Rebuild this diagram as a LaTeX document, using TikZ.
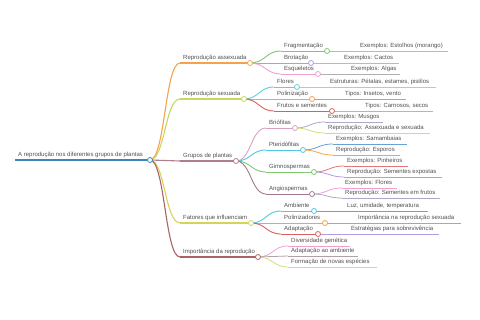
\documentclass[tikz,border=0pt]{standalone}
\usepackage{fontspec}
\setmainfont{Liberation Sans}
\usetikzlibrary{calc}
\definecolor{tc}{HTML}{505050}
\definecolor{cRoot}{HTML}{3A86C0}
\definecolor{cOrange}{HTML}{F4A24B}
\definecolor{cYG}{HTML}{C9D65F}
\definecolor{cMauve}{HTML}{B07D8C}
\definecolor{cYellow}{HTML}{D4D45A}
\definecolor{cBrown}{HTML}{A86464}
\definecolor{cGreen}{HTML}{80C870}
\definecolor{cPurple}{HTML}{B49AE0}
\definecolor{cPink}{HTML}{F0A0D0}
\definecolor{cRose}{HTML}{E4A4BC}
\definecolor{cGrey}{HTML}{B0B0B0}
\definecolor{cTeal}{HTML}{60CFD8}
\definecolor{cRed}{HTML}{D96060}
\definecolor{cLBlue}{HTML}{A8CAE8}
\definecolor{cBlue}{HTML}{6B9FD8}
\definecolor{cLav}{HTML}{C0A8E0}
\definecolor{cPM}{HTML}{D8A0C0}
\definecolor{cCyan}{HTML}{50C8E0}
\definecolor{cDM}{HTML}{A07890}
\definecolor{cGP}{HTML}{B0A8C8}
\definecolor{cLYG}{HTML}{D0E070}
\definecolor{cPinkR}{HTML}{E07878}
\definecolor{cGM}{HTML}{B0A0A8}
\newcommand\mnd[7]{%
  \coordinate (#1-s) at (#2,#4);
  \coordinate (#1-e) at (#3,#4);
  \draw[#5, line width=#6] (#1-s) -- (#1-e);
  \node[txt] (#1) at ($(#1-s)+(3,-3)$) {#7};}
\newcommand\mlk[4]{\draw[#3, line width=#4] (#1-e) to[lnk] (#2-s);}
\newcommand\mdot[2]{\draw[#2, fill=white, line width=0.8] (#1-e) circle[radius=2.5];}
\begin{document}
\begin{tikzpicture}[x=1pt,y=-1pt,
  txt/.style={font=\fontsize{6}{7}\selectfont, text=tc, inner sep=0, anchor=base west},
  lnk/.style={to path={let \p1=(\tikztostart), \p2=(\tikztotarget) in
     .. controls ({(\x1+\x2)/2},\y1) and ({(\x1+\x2)/2},\y2) .. (\tikztotarget)}}]
\useasboundingbox (0,0) rectangle (480,320);
% root
\mnd{root}{15}{150}{160}{cRoot}{1.4}{A reprodução nos diferentes grupos de plantas}
% level 1
\mnd{ra}{180}{250}{63}{cOrange}{1.1}{Reprodução assexuada}
\mnd{rs}{180}{244}{99}{cYG}{1.1}{Reprodução sexuada}
\mnd{gp}{180}{236}{161}{cMauve}{1.1}{Grupos de plantas}
\mnd{fi}{180}{251}{223}{cYellow}{1.1}{Fatores que influenciam}
\mnd{ir}{180}{258}{257}{cBrown}{1.1}{Importância da reprodução}
\mlk{root}{ra}{cOrange}{1.1}
\mlk{root}{rs}{cYG}{1.1}
\mlk{root}{gp}{cMauve}{1.1}
\mlk{root}{fi}{cYellow}{1.1}
\mlk{root}{ir}{cBrown}{1.1}
% level 2: assexuada
\mnd{frag}{281}{327}{51}{cGreen}{0.9}{Fragmentação}
\mnd{brot}{281}{311}{63}{cPurple}{0.9}{Brotação}
\mnd{esq}{281}{318}{74}{cPink}{0.9}{Esqueletos}
\mlk{ra}{frag}{cGreen}{0.9}
\mlk{ra}{brot}{cPurple}{0.9}
\mlk{ra}{esq}{cPink}{0.9}
\mnd{l1}{357}{448}{51}{cRose}{0.8}{Exemplos: Estolhos (morango)}
\mnd{l2}{341}{399}{63}{cRose}{0.8}{Exemplos: Cactos}
\mnd{l3}{348}{400}{74}{cGrey}{0.8}{Exemplos: Algas}
\mlk{frag}{l1}{cRose}{0.8}
\mlk{brot}{l2}{cRose}{0.8}
\mlk{esq}{l3}{cGrey}{0.8}
% level 2: sexuada
\mnd{flo}{274}{297}{87}{cTeal}{0.9}{Flores}
\mnd{pol}{274}{312}{99}{cOrange}{0.9}{Polinização}
\mnd{fru}{274}{332}{111}{cRed}{0.9}{Frutos e sementes}
\mlk{rs}{flo}{cTeal}{0.9}
\mlk{rs}{pol}{cOrange}{0.9}
\mlk{rs}{fru}{cRed}{0.9}
\mnd{l4}{327}{436}{87}{cLBlue}{0.8}{Estruturas: Pétalas, estames, pistilos}
\mnd{l5}{342}{406}{99}{cGreen}{0.8}{Tipos: Insetos, vento}
\mnd{l6}{362}{433}{111}{cLav}{0.8}{Tipos: Carnosos, secos}
\mlk{flo}{l4}{cLBlue}{0.8}
\mlk{pol}{l5}{cGreen}{0.8}
\mlk{fru}{l6}{cLav}{0.8}
% level 2: grupos
\mnd{bri}{266}{295}{128}{cPM}{0.9}{Briófitas}
\mnd{pte}{266}{303}{150}{cCyan}{0.9}{Pteridófitas}
\mnd{gim}{266}{314}{172}{cGreen}{0.9}{Gimnospermas}
\mnd{ang}{266}{312}{194}{cDM}{0.9}{Angiospermas}
\mlk{gp}{bri}{cPM}{0.9}
\mlk{gp}{pte}{cCyan}{0.9}
\mlk{gp}{gim}{cGreen}{0.9}
\mlk{gp}{ang}{cDM}{0.9}
\mnd{l7}{325}{383}{122}{cGP}{0.8}{Exemplos: Musgos}
\mnd{l8}{325}{430}{133}{cLYG}{0.8}{Reprodução: Assexuada e sexuada}
\mnd{l9}{333}{407}{144}{cBlue}{0.8}{Exemplos: Samambaias}
\mnd{l10}{333}{400}{155}{cOrange}{0.8}{Reprodução: Esporos}
\mnd{l11}{344}{408}{166}{cPinkR}{0.8}{Exemplos: Pinheiros}
\mnd{l12}{344}{442}{177}{cPurple}{0.8}{Reprodução: Sementes expostas}
\mnd{l13}{342}{397}{188}{cPink}{0.8}{Exemplos: Flores}
\mnd{l14}{342}{440}{198}{cGP}{0.8}{Reprodução: Sementes em frutos}
\mlk{bri}{l7}{cGP}{0.8}
\mlk{bri}{l8}{cLYG}{0.8}
\mlk{pte}{l9}{cBlue}{0.8}
\mlk{pte}{l10}{cOrange}{0.8}
\mlk{gim}{l11}{cPinkR}{0.8}
\mlk{gim}{l12}{cPurple}{0.8}
\mlk{ang}{l13}{cPink}{0.8}
\mlk{ang}{l14}{cGP}{0.8}
% level 2: fatores
\mnd{amb}{281}{314}{211}{cCyan}{0.9}{Ambiente}
\mnd{pln}{281}{325}{223}{cOrange}{0.9}{Polinizadores}
\mnd{ada}{281}{318}{234}{cRed}{0.9}{Adaptação}
\mlk{fi}{amb}{cCyan}{0.9}
\mlk{fi}{pln}{cOrange}{0.9}
\mlk{fi}{ada}{cRed}{0.9}
\mnd{l15}{344}{428}{211}{cBlue}{0.8}{Luz, umidade, temperatura}
\mnd{l16}{355}{461}{223}{cGreen}{0.8}{Importância na reprodução sexuada}
\mnd{l17}{348}{439}{234}{cPurple}{0.8}{Estratégias para sobrevivência}
\mlk{amb}{l15}{cBlue}{0.8}
\mlk{pln}{l16}{cGreen}{0.8}
\mlk{ada}{l17}{cPurple}{0.8}
% level 2: importancia
\mnd{div}{288}{350}{246}{cPink}{0.8}{Diversidade genética}
\mnd{aam}{288}{358}{256}{cGM}{0.8}{Adaptação ao ambiente}
\mnd{nov}{288}{377}{267}{cLYG}{0.8}{Formação de novas espécies}
\mlk{ir}{div}{cPink}{0.8}
\mlk{ir}{aam}{cGM}{0.8}
\mlk{ir}{nov}{cLYG}{0.8}
% circles
\mdot{root}{cRoot}
\mdot{ra}{cOrange}
\mdot{rs}{cYG}
\mdot{gp}{cMauve}
\mdot{fi}{cYellow}
\mdot{ir}{cBrown}
\mdot{frag}{cGreen}
\mdot{brot}{cPurple}
\mdot{esq}{cPink}
\mdot{flo}{cTeal}
\mdot{pol}{cOrange}
\mdot{fru}{cRed}
\mdot{bri}{cPM}
\mdot{pte}{cCyan}
\mdot{gim}{cGreen}
\mdot{ang}{cDM}
\mdot{amb}{cCyan}
\mdot{pln}{cOrange}
\mdot{ada}{cRed}
\end{tikzpicture}
\end{document}
